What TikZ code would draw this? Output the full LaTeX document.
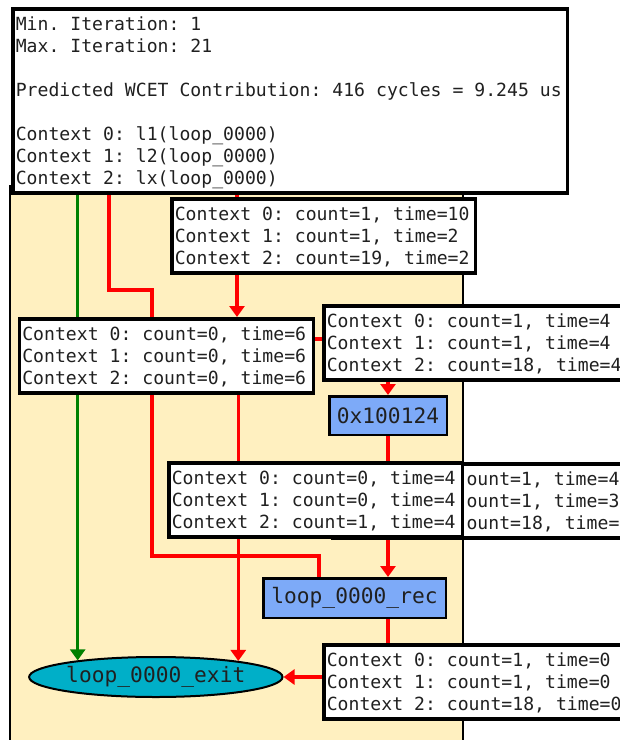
\documentclass[tikz,border=0pt]{standalone}
\usepackage{fontspec}
\usetikzlibrary{arrows.meta,shapes.geometric}
\pgfdeclarelayer{bg}
\pgfdeclarelayer{edges}
\pgfsetlayers{bg,edges,main}
\newfontfamily\tipfont{DejaVu Sans Mono}
\newfontfamily\nodefont{DejaVu Sans Mono}
\ExplSyntaxOn
\NewDocumentCommand \fixedrun { m m }
  { \str_map_inline:nn { #2 } { \makebox [ #1 ] [c] { ##1 } } }
\ExplSyntaxOff
\newcommand\tipline[1]{\fixedrun{10.92pt}{#1}}
\newcommand\nodeline[1]{\fixedrun{12.8pt}{#1}}
\newcommand\tipstrut{\rule[-4.5pt]{0pt}{22pt}}
\definecolor{yel}{HTML}{FFF0C0}
\definecolor{nblue}{HTML}{7DAAF8}
\definecolor{exitc}{HTML}{00AFC8}
\definecolor{grn}{HTML}{008000}
\definecolor{txt}{HTML}{202020}
\tikzset{
  tip/.style={draw=black, line width=3.5pt, fill=white, anchor=north west,
    inner xsep=3pt, inner ysep=4pt, align=left, text=txt,
    font=\tipfont\fontsize{18.1pt}{22pt}\selectfont},
  bnode/.style={draw=black, line width=2.5pt, fill=nblue, inner sep=0pt,
    text=txt, font=\nodefont\fontsize{21.2pt}{25pt}\selectfont},
  exitnode/.style={ellipse, draw=black, line width=2pt, fill=exitc, inner sep=0pt,
    text=txt, font=\nodefont\fontsize{21.2pt}{25pt}\selectfont},
  rline/.style={draw=red, line width=3.5pt},
  gline/.style={draw=grn, line width=3.5pt},
  arr/.style={-{Triangle[length=11pt,width=15pt]}}
}
\begin{document}
\begin{tikzpicture}[x=1pt,y=-1pt]
\useasboundingbox (0,0) rectangle (620,740);
% background region
\begin{pgfonlayer}{bg}
  \fill[white] (0,0) rectangle (620,740);
  \fill[yel] (10,185) rectangle (463,760);
  \draw[line width=2pt] (10,185) -- (10,760);
  \draw[line width=2pt] (463,185) -- (463,760);
\end{pgfonlayer}
% graph nodes
\node[bnode, minimum width=117.5pt, minimum height=38.5pt] (N1) at (388,415.5) {\nodeline{0x100124}};
\node[bnode, minimum width=182.5pt, minimum height=39.5pt] (N2) at (354.5,598) {\nodeline{loop_0000_rec}};
\node[exitnode, minimum width=253pt, minimum height=40pt] (E) at (155.8,677) {\nodeline{loop_0000_exit}};
% tooltip boxes
\node[tip, text width=297.5pt] (A) at (170,197) {\tipstrut\tipline{Context 0: count=1, time=10}\\\tipstrut\tipline{Context 1: count=1, time=2}\\\tipstrut\tipline{Context 2: count=19, time=2}};
\node[tip, text width=288pt] (B) at (17.5,317) {\tipstrut\tipline{Context 0: count=0, time=6}\\\tipstrut\tipline{Context 1: count=0, time=6}\\\tipstrut\tipline{Context 2: count=0, time=6}};
\node[tip, text width=300pt] (C) at (322,304) {\tipstrut\tipline{Context 0: count=1, time=4}\\\tipstrut\tipline{Context 1: count=1, time=4}\\\tipstrut\tipline{Context 2: count=18, time=4}};
\node[tip, text width=300pt] (Eb) at (331,462) {\tipstrut\hspace*{130.8pt}\tipline{ount=1, time=41}\\\tipstrut\hspace*{130.8pt}\tipline{ount=1, time=30}\\\tipstrut\hspace*{130.8pt}\tipline{ount=18, time=4}};
\node[tip, text width=287.5pt] (D) at (167,461) {\tipstrut\tipline{Context 0: count=0, time=4}\\\tipstrut\tipline{Context 1: count=0, time=4}\\\tipstrut\tipline{Context 2: count=1, time=4}};
\node[tip, text width=300pt] (F) at (322,643) {\tipstrut\tipline{Context 0: count=1, time=0}\\\tipstrut\tipline{Context 1: count=1, time=0}\\\tipstrut\tipline{Context 2: count=18, time=0}};
\node[tip, text width=548.5pt] (T) at (11,7) {\tipstrut\tipline{Min. Iteration: 1}\\\tipstrut\tipline{Max. Iteration: 21}\\\tipstrut\\\tipstrut\tipline{Predicted WCET Contribution: 416 cycles = 9.245 us}\\\tipstrut\\\tipstrut\tipline{Context 0: l1(loop_0000)}\\\tipstrut\tipline{Context 1: l2(loop_0000)}\\\tipstrut\tipline{Context 2: lx(loop_0000)}};
% connectors
\coordinate (xa) at (237,0);
\coordinate (k1) at (109,290);
\coordinate (k2) at (152,290);
\coordinate (k3) at (152,556);
\coordinate (k4) at (319,556);
\coordinate (yc) at (0,339);
\begin{pgfonlayer}{edges}
  \draw[rline] (T.south -| k1) -- (k1) -- (k2) -- (B.north -| k2);
  \draw[rline, arr] (T.south -| xa) -- (B.north -| xa);
  \draw[rline] (B.south -| k2) -- (k3) -- (k4) -- (N2.north -| k4);
  \draw[rline, arr] (B.south -| E.11.27) -- (E.11.27);
  \draw[gline, arr] (T.south -| E.168.6) -- (E.168.6);
  \draw[rline] (B.east |- yc) -- (C.west |- yc);
  \draw[rline, arr] (C.south -| N1.north) -- (N1.north);
  \draw[rline, arr] (N1.south) -- (N2.north -| N1.south);
  \draw[rline, arr] (N2.south -| N1.south) -- (N1.south |- E.east) -- (E.east);
\end{pgfonlayer}
\end{tikzpicture}
\end{document}
